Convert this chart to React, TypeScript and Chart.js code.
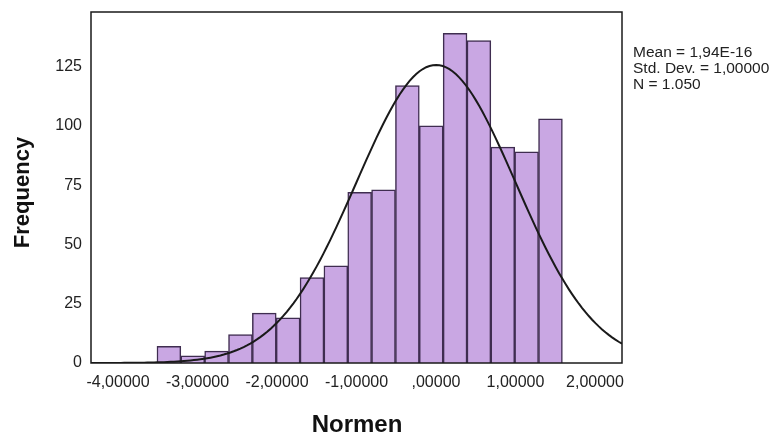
import React, { useEffect, useRef } from "react";
import { Chart, registerables } from "chart.js";

Chart.register(...registerables);

// Histogram bins (bin centres, width 0.3) and frequencies
const binCenters = [-3.36, -3.06, -2.76, -2.46, -2.16, -1.86, -1.56, -1.26, -0.96, -0.66, -0.36, -0.06, 0.24, 0.54, 0.84, 1.14, 1.44];
const frequencies = [7, 3, 5, 12, 21, 19, 36, 41, 72, 73, 117, 100, 139, 136, 91, 89, 103];
const binWidth = 0.3;

// Fitted normal curve parameters (from the stats box)
const mean = 0;
const stdDev = 1;
const nCount = 1050;

const xTicks = [-4, -3, -2, -1, 0, 1, 2];
const yTicks = [0, 25, 50, 75, 100, 125];
const statsLines = ["Mean = 1,94E-16", "Std. Dev. = 1,00000", "N = 1.050"];
const xTitle = "Normen";
const yTitle = "Frequency";

const X_MIN = -4.34;
const X_MAX = 2.34;
const Y_MAX = 148;

const FONT = "'Liberation Sans', Arial, sans-serif";

function fmtX(v: number): string {
  if (v === 0) return ",00000";
  return v.toFixed(5).replace(".", ",");
}

export default function App() {
  const ref = useRef<HTMLCanvasElement | null>(null);

  useEffect(() => {
    const canvas = ref.current;
    if (!canvas) return;

    const curve: { x: number; y: number }[] = [];
    const steps = 160;
    for (let i = 0; i <= steps; i++) {
      const x = X_MIN + ((X_MAX - X_MIN) * i) / steps;
      const z = (x - mean) / stdDev;
      const y = (nCount * binWidth * Math.exp(-0.5 * z * z)) / (stdDev * Math.sqrt(2 * Math.PI));
      curve.push({ x, y });
    }

    const framePlugin = {
      id: "frame",
      afterDatasetsDraw(chart: any) {
        const { ctx, chartArea } = chart;
        const { left, right, top, bottom } = chartArea;
        ctx.save();
        ctx.strokeStyle = "#1a1a1a";
        ctx.lineWidth = 1.5;
        ctx.strokeRect(left, top, right - left, bottom - top);
        ctx.restore();
      },
      afterDraw(chart: any) {
        const { ctx } = chart;
        ctx.save();
        ctx.fillStyle = "#111";
        ctx.font = `bold 24px ${FONT}`;
        ctx.textAlign = "center";
        ctx.textBaseline = "alphabetic";
        ctx.fillText(xTitle, 357, 432);
        ctx.save();
        ctx.translate(28.5, 192.5);
        ctx.rotate(-Math.PI / 2);
        ctx.font = `bold 22px ${FONT}`;
        ctx.fillText(yTitle, 0, 0);
        ctx.restore();
        ctx.font = `15.5px ${FONT}`;
        ctx.textAlign = "left";
        ctx.fillStyle = "#222";
        statsLines.forEach((s, i) => ctx.fillText(s, 633, 56.5 + i * 16));
        ctx.restore();
      },
    };

    const chart = new Chart(canvas, {
      type: "bar",
      data: {
        datasets: [
          {
            type: "line",
            data: curve,
            borderColor: "#1a1a1a",
            borderWidth: 2,
            pointRadius: 0,
            tension: 0,
            fill: false,
            order: 0,
          } as any,
          {
            type: "bar",
            data: binCenters.map((x, i) => ({ x, y: frequencies[i] })),
            backgroundColor: "#c9a7e3",
            borderColor: "#3f2d50",
            borderWidth: 1.5,
            barPercentage: 1,
            categoryPercentage: 1,
            order: 1,
          } as any,
        ],
      },
      options: {
        responsive: false,
        animation: false,
        devicePixelRatio: 1,
        layout: { padding: { left: 0, top: 12, right: 158, bottom: 0 } },
        plugins: { legend: { display: false }, tooltip: { enabled: false } },
        scales: {
          x: {
            type: "linear",
            offset: false,
            min: X_MIN,
            max: X_MAX,
            grid: { display: false, drawTicks: false, offset: false },
            border: { display: false },
            afterBuildTicks: (s: any) => {
              s.ticks = xTicks.map((v) => ({ value: v }));
            },
            afterFit: (s: any) => {
              s.height = 74;
              s.paddingLeft = 0;
              s.paddingRight = 0;
            },
            ticks: {
              autoSkip: false,
              maxRotation: 0,
              padding: 10,
              color: "#222",
              font: { family: FONT, size: 16 },
              callback: (v: any) => fmtX(Number(v)),
            },
          },
          y: {
            type: "linear",
            min: 0,
            max: Y_MAX,
            grid: { display: false, drawTicks: false },
            border: { display: false },
            afterBuildTicks: (s: any) => {
              s.ticks = yTicks.map((v) => ({ value: v }));
            },
            afterFit: (s: any) => {
              s.width = 91;
              s.paddingTop = 0;
              s.paddingBottom = 0;
            },
            ticks: {
              padding: 9,
              color: "#222",
              font: { family: FONT, size: 16 },
            },
          },
        },
      },
      plugins: [framePlugin],
    });

    return () => chart.destroy();
  }, []);

  return (
    <div style={{ position: "fixed", left: 0, top: 0, width: 780, height: 437, background: "#fff" }}>
      <canvas ref={ref} width={780} height={437} style={{ display: "block" }} />
    </div>
  );
}
